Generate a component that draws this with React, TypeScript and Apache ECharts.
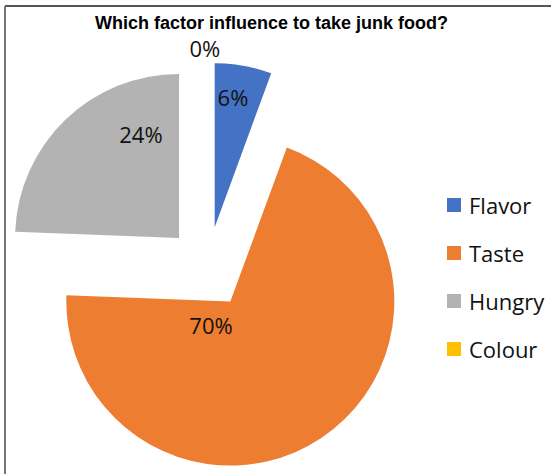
import React, { useEffect, useRef } from "react";
import * as echarts from "echarts";

const TITLE = "Which factor influence to take junk food?";
const categories = ["Flavor", "Taste", "Hungry", "Colour"];
const values = [5.6, 70.0, 24.4, 0];
const colors = ["#4472C4", "#ED7D31", "#B3B3B3", "#FFC000"];

// pie geometry
const CX = 207.5;
const CY = 267.5;
const R = 164;
const EXPLODE = 41;

// label placement: fraction of radius and angle (deg, clockwise from 12 o'clock)
const LABEL_R = [1.05, 0.35, 0.91, 1.34];
const LABEL_A = [8.5, 176.5, 333.5, 359.3];

const FONT = "'Open Sans', 'Liberation Sans', sans-serif";

export default function App() {
  const ref = useRef<HTMLDivElement>(null);
  useEffect(() => {
    if (!ref.current) return;
    const chart = echarts.init(ref.current, undefined, { renderer: "svg" });
    chart.setOption({
      animation: false,
      backgroundColor: "#ffffff",
      title: {
        text: TITLE,
        left: 95,
        top: 14,
        padding: 0,
        textStyle: {
          fontFamily: "'Liberation Sans', Arial, sans-serif",
          fontWeight: "bold",
          fontSize: 18,
          color: "#000",
        },
      },
      legend: {
        orient: "vertical",
        left: 447,
        top: 194,
        padding: 0,
        itemWidth: 14,
        itemHeight: 14,
        itemGap: 26,
        icon: "rect",
        selectedMode: false,
        data: categories,
        textStyle: {
          fontFamily: FONT,
          fontSize: 22,
          lineHeight: 22,
          color: "#111",
          padding: [0, 0, 0, 3],
        },
      },
      graphic: [
        {
          type: "line",
          shape: { x1: 5, y1: 6, x2: 551, y2: 6 },
          style: { stroke: "#555", lineWidth: 2 },
        },
        {
          type: "line",
          shape: { x1: 5, y1: 6, x2: 5, y2: 474 },
          style: { stroke: "#777", lineWidth: 2 },
        },
      ],
      series: [
        {
          type: "pie",
          center: [CX, CY],
          radius: [0, R],
          startAngle: 90,
          clockwise: true,
          selectedMode: "multiple",
          selectedOffset: EXPLODE,
          avoidLabelOverlap: false,
          emphasis: { disabled: true },
          select: { itemStyle: { borderWidth: 0 } },
          itemStyle: { borderWidth: 0 },
          labelLine: { show: false },
          label: { show: false },
          data: categories.map((name, i) => ({
            name,
            value: values[i],
            selected: true,
            itemStyle: { color: colors[i] },
          })),
        },
        {
          // same data, transparent, carries the percentage labels
          type: "pie",
          center: [CX, CY],
          radius: [0, R],
          startAngle: 90,
          clockwise: true,
          silent: true,
          selectedMode: false,
          avoidLabelOverlap: false,
          emphasis: { disabled: true },
          itemStyle: { color: "rgba(0,0,0,0)", borderWidth: 0 },
          labelLine: { show: false },
          label: {
            show: true,
            position: "inside",
            formatter: (p: any) => `${Math.round(p.percent)}%`,
            fontFamily: FONT,
            fontSize: 22,
            color: "#111",
          },
          labelLayout: (params: any) => {
            const i = params.dataIndex;
            const a = (LABEL_A[i] * Math.PI) / 180;
            return {
              x: CX + R * LABEL_R[i] * Math.sin(a),
              y: CY - R * LABEL_R[i] * Math.cos(a),
              align: "center",
              verticalAlign: "middle",
            };
          },
          data: categories.map((name, i) => ({ name, value: values[i] })),
        },
      ],
    });
    return () => chart.dispose();
  }, []);
  return (
    <div
      ref={ref}
      style={{ position: "fixed", left: 0, top: 0, width: 551, height: 474 }}
    />
  );
}
